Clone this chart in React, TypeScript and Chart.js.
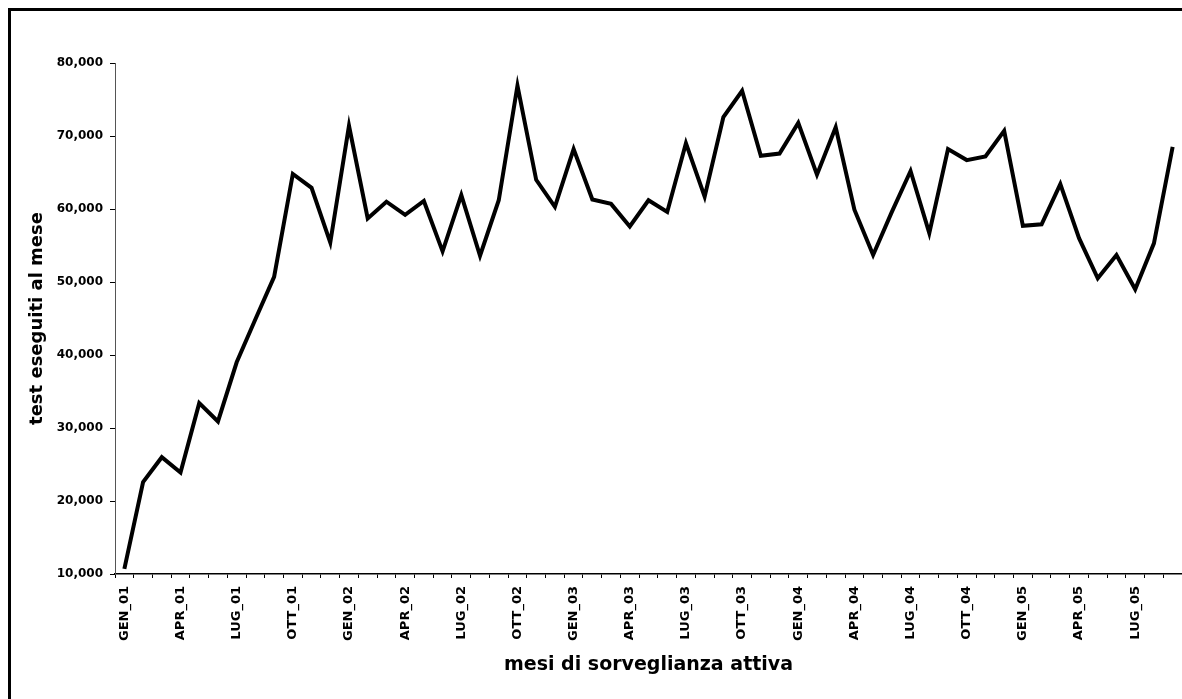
import { useEffect, useRef } from 'react';
import { Chart, registerables } from 'chart.js';

Chart.register(...registerables);

// Months of active surveillance (Jan 2001 - Sep 2005)
const CATEGORIES = [
  'GEN_01', 'FEB_01', 'MAR_01', 'APR_01', 'MAG_01', 'GIU_01', 'LUG_01', 'AGO_01', 'SET_01', 'OTT_01', 'NOV_01', 'DIC_01',
  'GEN_02', 'FEB_02', 'MAR_02', 'APR_02', 'MAG_02', 'GIU_02', 'LUG_02', 'AGO_02', 'SET_02', 'OTT_02', 'NOV_02', 'DIC_02',
  'GEN_03', 'FEB_03', 'MAR_03', 'APR_03', 'MAG_03', 'GIU_03', 'LUG_03', 'AGO_03', 'SET_03', 'OTT_03', 'NOV_03', 'DIC_03',
  'GEN_04', 'FEB_04', 'MAR_04', 'APR_04', 'MAG_04', 'GIU_04', 'LUG_04', 'AGO_04', 'SET_04', 'OTT_04', 'NOV_04', 'DIC_04',
  'GEN_05', 'FEB_05', 'MAR_05', 'APR_05', 'MAG_05', 'GIU_05', 'LUG_05', 'AGO_05', 'SET_05',
];

// Tests performed per month
const TESTS = [
  10700, 22600, 26000, 23900, 33400, 30900, 39000, 44900, 50700, 64800, 62900, 55400,
  71400, 58700, 61000, 59200, 61100, 54200, 61900, 53600, 61200, 76900, 64000, 60300,
  68200, 61300, 60700, 57600, 61200, 59600, 69000, 61700, 72600, 76200, 67300, 67600,
  71800, 64700, 71200, 59900, 53700, 59600, 65200, 56700, 68200, 66700, 67200, 70700,
  57700, 57900, 63400, 56000, 50500, 53700, 49000, 55300, 68500,
];

const Y_MIN = 10000;
const Y_MAX = 80000;
const Y_STEP = 10000;
const LABEL_EVERY = 3;

const X_TITLE = 'mesi di sorveglianza attiva';
const Y_TITLE = 'test eseguiti al mese';

const FONT = 'DejaVu Sans';

export default function App() {
  const ref = useRef<HTMLCanvasElement>(null);

  useEffect(() => {
    if (!ref.current) return;
    const chart = new Chart(ref.current, {
      type: 'line',
      data: {
        labels: CATEGORIES,
        datasets: [
          {
            data: TESTS,
            borderColor: '#000',
            borderWidth: 4,
            pointRadius: 0,
            tension: 0,
            fill: false,
          },
        ],
      },
      options: {
        animation: false,
        responsive: false,
        layout: { padding: { top: 63, left: 0, right: 0, bottom: 0 } },
        plugins: {
          legend: { display: false },
          tooltip: { enabled: false },
        },
        scales: {
          x: {
            type: 'category',
            offset: true,
            grid: {
              offset: true,
              drawOnChartArea: false,
              drawTicks: true,
              tickLength: 4,
              color: '#000',
              lineWidth: 1,
            },
            border: { display: true, color: '#000', width: 1.5 },
            ticks: {
              autoSkip: false,
              maxRotation: 90,
              minRotation: 90,
              padding: 8,
              color: '#000',
              font: { family: FONT, weight: 'bold', size: 13 },
              callback: (_v: any, i: number) => (i % LABEL_EVERY === 0 ? CATEGORIES[i] : ''),
            },
            title: {
              display: true,
              text: X_TITLE,
              color: '#000',
              font: { family: FONT, weight: 'bold', size: 19 },
              padding: { top: 0, bottom: 23 },
            },
            afterFit: (s: any) => {
              s.height = 125;
              s.paddingLeft = 0;
              s.paddingRight = 0;
            },
          },
          y: {
            min: Y_MIN,
            max: Y_MAX,
            ticks: {
              stepSize: Y_STEP,
              padding: 7,
              color: '#000',
              font: { family: FONT, weight: 'bold', size: 12 },
              callback: (v: any) => Number(v).toLocaleString('en-US'),
            },
            grid: { drawOnChartArea: false, drawTicks: true, tickLength: 5, color: '#000' },
            border: { display: true, color: '#555', width: 1, dash: [2, 2] },
            title: {
              display: true,
              text: Y_TITLE,
              color: '#000',
              font: { family: FONT, weight: 'bold', size: 18 },
              padding: { top: 27, bottom: 0 },
            },
            afterFit: (s: any) => {
              s.width = 115;
            },
          },
        },
      },
    } as any);
    return () => chart.destroy();
  }, []);

  return (
    <div
      style={{
        position: 'fixed',
        left: 0,
        top: 0,
        width: 1182,
        height: 699,
        background: '#fff',
        overflow: 'hidden',
      }}
    >
      <canvas ref={ref} width={1182} height={699} style={{ display: 'block' }} />
      <div
        style={{
          position: 'absolute',
          left: 8,
          top: 8,
          right: -10,
          bottom: -10,
          borderLeft: '3px solid #000',
          borderTop: '3px solid #000',
          pointerEvents: 'none',
        }}
      />
    </div>
  );
}
